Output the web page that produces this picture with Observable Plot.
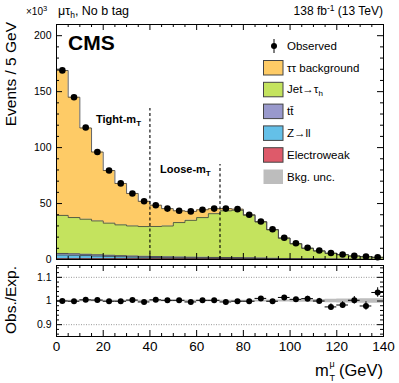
<!DOCTYPE html>
<html><head><meta charset="utf-8">
<script src="https://cdn.jsdelivr.net/npm/d3@7"></script>
<script src="https://cdn.jsdelivr.net/npm/@observablehq/plot@0.6"></script>
<style>
body{margin:0;background:#fff;}
#chart{position:relative;width:399px;height:383px;overflow:hidden;background:#fff;}
#chart svg{position:absolute;left:0;}
</style></head><body><div id="chart"></div>
<script>
// ---------- data (values in units of 10^3 events) ----------
const binCenters = [2.5,7.5,12.5,17.5,22.5,27.5,32.5,37.5,42.5,47.5,52.5,57.5,62.5,67.5,72.5,77.5,82.5,87.5,92.5,97.5,102.5,107.5,112.5,117.5,122.5,127.5,132.5,137.5];
const observed = [169,145,118,96,79.5,68,59,52,48.5,45.5,43.5,43,44.5,45.5,45.5,45,40,34,27,19.5,14.5,10.5,8,5.8,4.5,3.2,2.6,2.0];
const electroweak = [0.8,0.8,0.8,0.8,0.8,0.8,0.8,0.8,0.8,0.8,0.8,0.8,0.8,0.8,0.8,0.8,0.7,0.6,0.5,0.4,0.35,0.3,0.25,0.2,0.15,0.12,0.1,0.08];
const zll = [3.2,3.0,2.7,2.3,2.0,1.7,1.4,1.2,1.0,0.8,0.7,0.6,0.5,0.45,0.4,0.35,0.3,0.25,0.2,0.15,0.1,0.1,0.08,0.06,0.05,0.04,0.03,0.02];
const ttbar = [1.4,1.3,1.2,1.1,1.0,0.95,0.9,0.85,0.8,0.75,0.7,0.7,0.65,0.6,0.6,0.55,0.5,0.45,0.4,0.35,0.3,0.25,0.2,0.18,0.15,0.12,0.1,0.08];
const jetTau = [34,32.4,31.3,30.3,28.7,27.5,26.9,26.6,26.9,27.6,30.8,32.9,35.5,39.1,41.7,42.3,38,32.2,25.4,18.1,13.25,9.35,7.07,5.06,3.95,2.82,2.27,1.72];
const tautau = [129.5,107.5,81.5,61.5,47,37,29,22.5,19,15.5,10.5,8,7,4.5,2,1,0.5,0.4,0.3,0.2,0.15,0.1,0.08,0.06,0.05,0.04,0.03,0.02];
const ratio = [1.000,0.999,1.005,1.004,0.999,0.999,1.004,0.996,1.005,1.003,1.003,0.996,1.003,1.003,0.996,0.999,0.999,1.011,0.999,1.015,1.007,1.010,1.000,0.975,0.983,1.003,0.979,1.036];
const ratioErr = [0.0025,0.0026,0.003,0.003,0.0035,0.004,0.004,0.0045,0.0045,0.005,0.005,0.005,0.005,0.005,0.005,0.005,0.005,0.0055,0.006,0.007,0.008,0.01,0.011,0.013,0.014,0.016,0.018,0.02];
const bkgUnc = [0.003,0.003,0.003,0.003,0.003,0.003,0.003,0.003,0.003,0.003,0.003,0.003,0.003,0.003,0.003,0.003,0.0035,0.004,0.004,0.0045,0.005,0.005,0.006,0.007,0.008,0.008,0.009,0.009];
const cutX = [40,70];
const cutTop = [135,85];
const xMajor = [0,20,40,60,80,100,120,140];
const xMinor = [5,10,15,25,30,35,45,50,55,65,70,75,85,90,95,105,110,115,125,130,135];
const yMajor = [0,50,100,150,200];
const yMinor = [10,20,30,40,60,70,80,90,110,120,130,140,160,170,180,190];
const rMajor = [0.9,1.0,1.1];
const rMinor = [0.86,0.88,0.92,0.94,0.96,0.98,1.02,1.04,1.06,1.08,1.12,1.14];
const rGrid = [0.9,1.1];

const processes = ["Electroweak","Z→ll","tt̄","Jet→τh","ττ background"];
const procValues = [electroweak, zll, ttbar, jetTau, tautau];
const procColors = ["#de5a6a","#64c0e8","#9999cc","#c4e35e","#fecb66"];
const halfBin = 2.5;

// ---------- tables ----------
const areaRows = [];
const cum = binCenters.map(() => 0);
processes.forEach((p, k) => {
  binCenters.forEach((c, i) => {
    const lo = cum[i], hi = cum[i] + procValues[k][i];
    areaRows.push({proc: p, color: procColors[k], x: c - halfBin, lo, hi});
    areaRows.push({proc: p, color: procColors[k], x: c + halfBin, lo, hi});
    cum[i] = hi;
  });
});
const obsRows = binCenters.map((c, i) => ({c, obs: observed[i]}));
const ratioRows = binCenters.map((c, i) => ({c, x1: c - halfBin, x2: c + halfBin, r: ratio[i], lo: ratio[i] - ratioErr[i], hi: ratio[i] + ratioErr[i]}));
const uncRows = [];
binCenters.forEach((c, i) => {
  uncRows.push({x: c - halfBin, lo: 1 - bkgUnc[i], hi: 1 + bkgUnc[i]});
  uncRows.push({x: c + halfBin, lo: 1 - bkgUnc[i], hi: 1 + bkgUnc[i]});
});

// ---------- layout ----------
const W = 399, L = 56, R = 16;
const upTop = 24, upBot = 259;
const loTopPx = 262, loFrameTop = 265, loFrameBot = 336;
const fhU = upBot - upTop, fhL = loFrameBot - loFrameTop, fw = W - L - R;
const font = "'Liberation Sans', Arial, Helvetica, sans-serif";
const style = {fontFamily: font, fontSize: "10.5px", color: "#000", background: "transparent", overflow: "visible"};
const MJ = 6, MN = 3;

function frameTicks(fh, yMaj, yMin) {
  return [
    Plot.tickX(xMajor, {x: d => d, insetTop: fh - MJ, stroke: "#000"}),
    Plot.tickX(xMinor, {x: d => d, insetTop: fh - MN, stroke: "#000"}),
    Plot.tickX(xMajor, {x: d => d, insetBottom: fh - MJ, stroke: "#000"}),
    Plot.tickX(xMinor, {x: d => d, insetBottom: fh - MN, stroke: "#000"}),
    Plot.tickY(yMaj, {y: d => d, insetRight: fw - MJ, stroke: "#000"}),
    Plot.tickY(yMin, {y: d => d, insetRight: fw - MN, stroke: "#000"}),
    Plot.tickY(yMaj, {y: d => d, insetLeft: fw - MJ, stroke: "#000"}),
    Plot.tickY(yMin, {y: d => d, insetLeft: fw - MN, stroke: "#000"})
  ];
}

const upper = Plot.plot({
  width: W, height: upBot + 1,
  marginLeft: L, marginRight: R, marginTop: upTop, marginBottom: 1,
  x: {domain: [0, 140], axis: null},
  y: {domain: [0, 210]},
  color: {type: "identity"},
  style,
  marks: [
    Plot.areaY(areaRows, {x: "x", y1: "lo", y2: "hi", z: "proc", fill: "color"}),
    Plot.line(areaRows, {x: "x", y: "hi", z: "proc", stroke: "#3c3c3c", strokeWidth: 0.8}),
    Plot.ruleX(cutX, {x: d => d, y1: 0, y2: (d, i) => cutTop[i], stroke: "#000", strokeWidth: 1.1, strokeDasharray: "3,2.5"}),
    Plot.dot(obsRows, {x: "c", y: "obs", r: 3.3, fill: "#000", stroke: null}),
    Plot.frame({stroke: "#000", strokeWidth: 1}),
    ...frameTicks(fhU, yMajor, yMinor),
    Plot.axisY({ticks: yMajor, tickSize: 0, tickPadding: 5, fontSize: 10.5, label: null})
  ]
});
upper.style.top = "0px";

const lower = Plot.plot({
  width: W, height: 383 - loTopPx,
  marginLeft: L, marginRight: R, marginTop: loFrameTop - loTopPx, marginBottom: 383 - loFrameBot,
  x: {domain: [0, 140]},
  y: {domain: [0.85, 1.15]},
  style,
  marks: [
    Plot.areaY(uncRows, {x: "x", y1: "lo", y2: "hi", fill: "#bdbdbd"}),
    Plot.ruleY(rGrid, {y: d => d, stroke: "#999", strokeDasharray: "1,1.5"}),
    Plot.ruleY(ratioRows, {y: "r", x1: "x1", x2: "x2", stroke: "#000", strokeWidth: 1}),
    Plot.ruleX(ratioRows, {x: "c", y1: "lo", y2: "hi", stroke: "#000", strokeWidth: 1}),
    Plot.dot(ratioRows, {x: "c", y: "r", r: 3, fill: "#000", stroke: null}),
    Plot.frame({stroke: "#000", strokeWidth: 1}),
    ...frameTicks(fhL, rMajor, rMinor),
    Plot.axisY({ticks: rMajor, tickSize: 0, tickPadding: 5, fontSize: 10.5, label: null, tickFormat: d => d === 1 ? "1" : d3.format(".1f")(d)}),
    Plot.axisX({ticks: xMajor, tickSize: 0, tickPadding: 5, fontSize: 13.5, label: null})
  ]
});
lower.style.top = loTopPx + "px";

const chart = document.getElementById("chart");
chart.appendChild(upper);
chart.appendChild(lower);

// ---------- overlay text ----------
const ov = d3.select(chart).append("svg")
  .attr("width", W).attr("height", 383).style("top", "0px")
  .style("font-family", font).style("pointer-events", "none");

function txt(x, y, size, parts, opts = {}) {
  const t = ov.append("text").attr("x", x).attr("y", y).attr("font-size", size)
    .attr("fill", "#000").attr("text-anchor", opts.anchor || "start");
  if (opts.bold) t.attr("font-weight", "bold");
  if (opts.rotate) t.attr("transform", `rotate(-90,${x},${y})`);
  parts.forEach(p => {
    if (typeof p === "string") t.append("tspan").text(p);
    else {
      const s = t.append("tspan").text(p.t);
      if (p.size) s.attr("font-size", p.size);
      if (p.dy) s.attr("dy", p.dy);
      if (p.dx) s.attr("dx", p.dx);
    }
  });
  return t;
}

// header
txt(26, 15, 10, ["×10", {t: "3", size: 7.5, dy: -4}]);
txt(58, 15, 12.5, ["μτ", {t: "h", size: 8.5, dy: 3}, {t: ", No b tag", dy: -3}]);
txt(383, 15, 12, ["138 fb", {t: "-1", size: 8.5, dy: -4.5}, {t: " (13 TeV)", dy: 4.5}], {anchor: "end"});
txt(68, 50, 21, ["CMS"], {bold: true});
// region labels
txt(96, 123, 11, ["Tight-m", {t: "T", size: 8, dy: 3}], {bold: true});
txt(160, 173, 11, ["Loose-m", {t: "T", size: 8, dy: 3}], {bold: true});
// axis titles
txt(16, 22, 15.5, ["Events / 5 GeV"], {rotate: true, anchor: "end"});
txt(16, 300, 15.5, ["Obs./Exp."], {rotate: true, anchor: "middle"});
const gev = txt(383, 376, 16.5, ["(GeV)"], {anchor: "end"});
const gevStart = 383 - gev.node().getComputedTextLength();
txt(gevStart - 24, 376, 16.5, ["m"]);
txt(gevStart - 9.5, 367, 9, ["μ"]);
txt(gevStart - 9.5, 380.5, 9, ["T"]);

// legend
const legX = 263, legTxt = 287, legSize = 11.5;
// observed
ov.append("line").attr("x1", 274).attr("x2", 274).attr("y1", 39).attr("y2", 53).attr("stroke", "#000").attr("stroke-width", 1);
ov.append("circle").attr("cx", 274).attr("cy", 46).attr("r", 3).attr("fill", "#000");
txt(legTxt, 50, legSize, ["Observed"]);
const legItems = [
  {fill: procColors[4], label: ["ττ background"]},
  {fill: procColors[3], label: ["Jet→τ", {t: "h", size: 8, dy: 3}]},
  {fill: procColors[2], label: ["tt̄"]},
  {fill: procColors[1], label: ["Z→ll"]},
  {fill: procColors[0], label: ["Electroweak"]},
  {fill: "#bdbdbd", label: ["Bkg. unc."], noStroke: true}
];
legItems.forEach((it, i) => {
  const yc = 67.5 + i * 21.8;
  ov.append("rect").attr("x", legX + 0.5).attr("y", yc - 7).attr("width", 19.5).attr("height", 14.5)
    .attr("fill", it.fill).attr("stroke", it.noStroke ? "none" : "#444").attr("stroke-width", 1);
  txt(legTxt, yc + 4, legSize, it.label);
});
</script></body></html>
